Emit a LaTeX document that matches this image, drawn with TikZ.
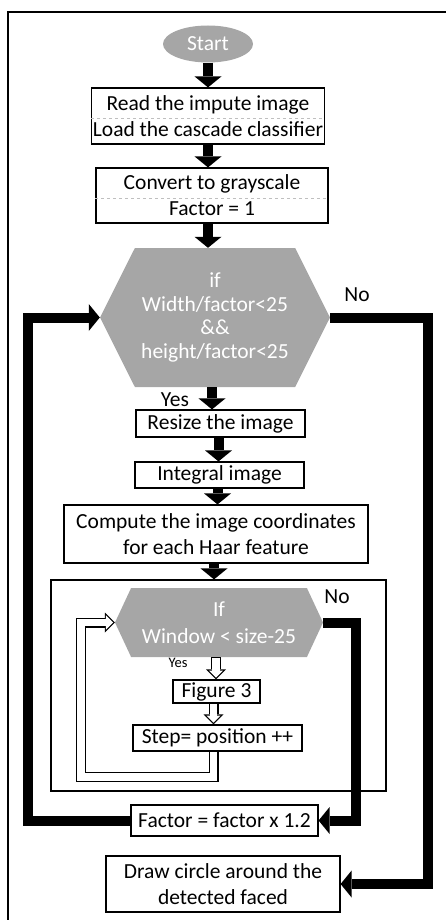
\documentclass[tikz,border=0pt]{standalone}
\usepackage{fontspec}
\setmainfont{Carlito}
\usetikzlibrary{arrows.meta,shapes.geometric,shapes.symbols}
\definecolor{condgray}{HTML}{A6A6A6}

\begin{document}
\begin{tikzpicture}[x=1pt,y=-1pt,line join=miter,
  box/.style={draw,line width=1.2pt,inner sep=1pt,align=center,font=\fontsize{21.5}{26}\selectfont},
  cond/.style={signal,signal to=west and east,fill=condgray,text=white,inner sep=0pt,align=center},
  blk/.style={line width=10pt,-{Triangle[length=11pt,width=27pt,line width=0pt]}},
  hol/.style={line width=10pt,-{Triangle[length=10pt,width=20pt,line width=0pt]}},
  holin/.style={white,line width=7.6pt,shorten <=0.6pt,shorten >=1.7pt,-{Triangle[length=7.1pt,width=14.2pt,line width=0pt]}},
  sep/.style={gray!50,dashed,line width=0.8pt},
  lbl/.style={font=\fontsize{21.5}{24}\selectfont}]
\clip (0,0) rectangle (446,920);
% frame
\draw[line width=1.2pt] (8,930) |- (455,12);
\node[draw,line width=1.2pt,minimum width=335pt,minimum height=211pt] (loopbox) at (218.5,685.5) {};
% nodes
\node[ellipse,fill=condgray,text=white,minimum width=90pt,minimum height=37pt,font=\fontsize{21.5}{24}\selectfont] (start) at (208,44) {Start};
\node[box,minimum width=232pt,minimum height=56pt] (read) at (208,116) {Read the impute image\\Load the cascade classifier};
\node[box,minimum width=232pt,minimum height=55pt] (conv) at (212,195.5) {Convert to grayscale\\Factor = 1};
\node[cond,signal pointer angle=126.7,minimum width=230pt,minimum height=139pt,font=\fontsize{21.5}{23.5}\selectfont] (hexa) at (215,317.5) {if\\Width/factor<25\\\&\&\\height/factor<25};
\node[box,minimum width=169pt,minimum height=27pt] (resize) at (220.5,423.5) {Resize the image};
\node[box,minimum width=169pt,minimum height=26pt] (integ) at (219.5,475) {Integral image};
\node[box,minimum width=304pt,minimum height=58pt] (haar) at (216,534) {Compute the image coordinates\\for each Haar feature};
\node[cond,signal pointer angle=130,minimum width=208pt,minimum height=69pt,font=\fontsize{21.5}{27}\selectfont] (hexb) at (219,622.5) {If\\Window < size-25};
\node[box,minimum width=87pt,minimum height=23pt] (fig) at (216.5,691.5) {Figure 3};
\node[box,minimum width=169pt,minimum height=26pt] (stepbox) at (217.5,738) {Step= position ++};
\node[box,minimum width=187pt,minimum height=31pt] (factor) at (224.5,820.5) {Factor = factor x 1.2};
\node[box,minimum width=234pt,minimum height=56pt] (circ) at (223,884) {Draw circle around the\\detected faced};
% dashed separators
\draw[sep] ([yshift=-2pt]read.west) -- ([yshift=-2pt]read.east);
\draw[sep] ([yshift=-2.5pt]conv.west) -- ([yshift=-2.5pt]conv.east);
% labels
\node[lbl] (noa) at (357,295) {No};
\node[lbl] (yesa) at (175,400) {Yes};
\node[lbl] (nob) at (337,597) {No};
\node[font=\fontsize{14.5}{16}\selectfont] (yesb) at (178,663) {Yes};
% helper coordinates
\coordinate (rx) at (428,0);
\coordinate (lx) at (28,0);
\coordinate (ix) at (356,0);
\coordinate (hb) at (81,777);
% main arrows
\draw[blk] (start.south) -- (start.south |- read.north);
\draw[blk] (read.south) -- (read.south |- conv.north);
\draw[blk] (conv.south -| read.south) -- (read.south |- hexa.north);
\draw[blk] ([xshift=-3pt]hexa.south) -- ([xshift=-3pt]hexa.south |- resize.north);
\draw[blk] ([xshift=-2pt]resize.south) -- ([xshift=-2pt]resize.south |- integ.north);
\draw[blk] ([xshift=-2pt]integ.south) -- ([xshift=-2pt]integ.south |- haar.north);
\draw[blk] ([xshift=-2pt]haar.south) -- ([xshift=-2pt]haar.south |- loopbox.north);
\draw[blk] (hexa.east) -| (rx |- circ.east) -- (circ.east);
\draw[blk] (factor.west) -| (lx |- hexa.west) -- (hexa.west);
\draw[blk] (hexb.east) -| (ix |- factor.east) -- (factor.east);
% hollow arrows
\draw[hol] ([xshift=-3pt]hexb.south) -- ([xshift=-3pt]hexb.south |- fig.north);
\draw[holin] ([xshift=-3pt]hexb.south) -- ([xshift=-3pt]hexb.south |- fig.north);
\draw[hol] ([xshift=-3pt]fig.south) -- ([xshift=-3pt]fig.south |- stepbox.north);
\draw[holin] ([xshift=-3pt]fig.south) -- ([xshift=-3pt]fig.south |- stepbox.north);
\draw[hol] ([xshift=-4pt]stepbox.south) |- (hb) |- (hexb.west);
\draw[holin] ([xshift=-4pt]stepbox.south) |- (hb) |- (hexb.west);
\end{tikzpicture}
\end{document}
